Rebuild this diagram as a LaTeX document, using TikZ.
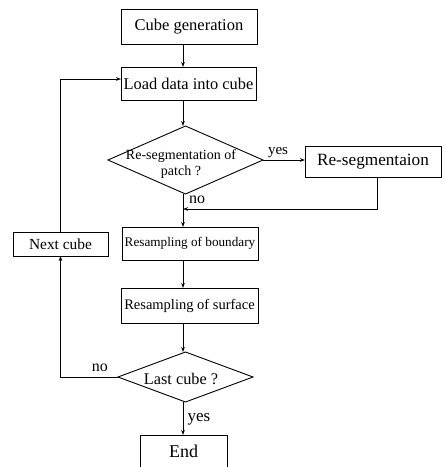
\documentclass[tikz,border=0pt]{standalone}
\usepackage{fontspec}
\setmainfont{Liberation Serif}
\usetikzlibrary{shapes.geometric,arrows.meta}
\tikzset{
  box/.style={draw, rectangle, line width=0.9pt, inner sep=0pt, outer sep=0pt},
  dia/.style={draw, diamond, line width=0.9pt, inner sep=0pt, outer sep=0pt},
  conn/.style={line width=0.9pt, -{Stealth[length=5pt,width=3.6pt]}},
  plain/.style={line width=0.9pt},
  lbl/.style={inner sep=0pt, font=\fontsize{16}{18}\selectfont},
}
\begin{document}
\begin{tikzpicture}[x=1pt,y=-1pt]
\useasboundingbox (0,0) rectangle (446,467);
\fill[white] (0,0) rectangle (446,467);
\coordinate (col) at (183,0);
\coordinate (rsx) at (377,0);
\coordinate (j) at (183,209);
\coordinate (lj) at (0,79);

\node[box, minimum width=136pt, minimum height=35pt, font=\fontsize{16.5}{18}\selectfont] (cg) at (189,26.5) {Cube generation};
\node[box, minimum width=135pt, minimum height=33pt, font=\fontsize{16.4}{18}\selectfont] (ld) at (188.5,83.5) {Load data into cube};
\node[dia, minimum width=155pt, minimum height=68pt] (d1) at (185.5,160) {};
\node[inner sep=0pt, align=center, font=\fontsize{14}{16}\selectfont] (d1t) at (181,164) {Re-segmentation of\\patch ?};
\node[box, minimum width=136pt, minimum height=31pt, font=\fontsize{17.2}{19}\selectfont] (rs) at (373,162) {Re-segmentaion};
\node[box, minimum width=136pt, minimum height=33pt, font=\fontsize{13.2}{15}\selectfont] (rb) at (190,243.5) {Resampling of boundary};
\node[box, minimum width=137pt, minimum height=35pt, font=\fontsize{14.5}{16}\selectfont] (rsf) at (189.5,305.5) {Resampling of surface};
\node[box, minimum width=95pt, minimum height=24pt, font=\fontsize{15.4}{17}\selectfont] (nc) at (60.5,244) {Next cube};
\node[dia, minimum width=135pt, minimum height=50pt] (d2) at (185.5,377) {};
\node[inner sep=0pt, font=\fontsize{16.3}{18}\selectfont] (d2t) at (181,379) {Last cube ?};
\node[inner sep=0pt, outer sep=0pt, minimum width=87pt, minimum height=32pt, font=\fontsize{18}{20}\selectfont] (end) at (183.5,451) {End};
\draw[plain] (end.south west) -- (end.north west) -- (end.north east) -- (end.south east);

\draw[conn] (cg.south -| col) -- (ld.north -| col);
\draw[conn] (ld.south -| col) -- (d1.north -| col);
\draw[conn] (d1.east) -- (d1.east -| rs.west);
\draw[conn] (rs.south -| rsx) |- (j);
\draw[conn] (d1.south -| col) -- (rb.north -| col);
\draw[conn] (rb.south -| col) -- (rsf.north -| col);
\draw[conn] (rsf.south -| col) -- (d2.north -| col);
\draw[conn] (d2.south -| col) -- (end.north -| col);
\draw[conn] (d2.west) -| (nc.south);
\draw[conn] (nc.north) |- (lj -| ld.west);

\node[lbl, font=\fontsize{15}{17}\selectfont] (yes1) at (278,152.5) {yes};
\node[lbl] (no1) at (197,200) {no};
\node[lbl] (no2) at (100,368) {no};
\node[lbl, font=\fontsize{17}{19}\selectfont] (yes2) at (199,419) {yes};
\end{tikzpicture}
\end{document}
